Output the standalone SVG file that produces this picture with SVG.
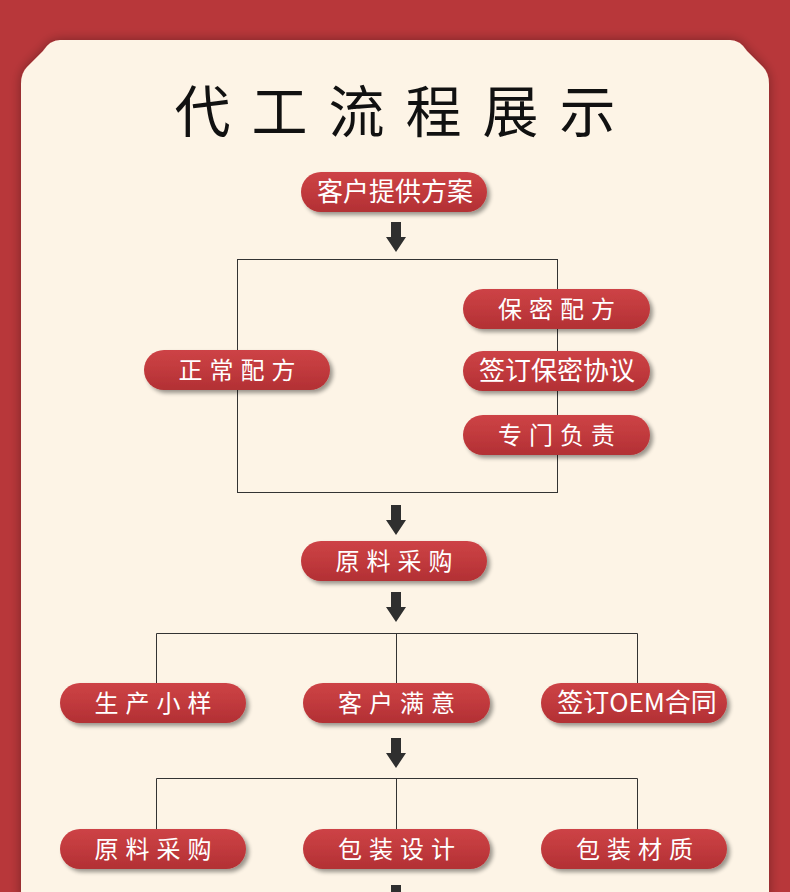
<svg xmlns="http://www.w3.org/2000/svg" width="790" height="892" viewBox="0 0 790 892">
<defs>
<linearGradient id="pg" x1="0" y1="0" x2="0" y2="1">
<stop offset="0" stop-color="#cd4346"/>
<stop offset="0.5" stop-color="#c13a3d"/>
<stop offset="1" stop-color="#b23034"/>
</linearGradient>
<filter id="ps" x="-10%" y="-30%" width="125%" height="170%">
<feGaussianBlur in="SourceAlpha" stdDeviation="2"/>
<feOffset dx="3" dy="3" result="b"/>
<feComponentTransfer><feFuncA type="linear" slope="0.4"/></feComponentTransfer>
<feMerge><feMergeNode/><feMergeNode in="SourceGraphic"/></feMerge>
</filter>
<filter id="cs" x="-5%" y="-5%" width="110%" height="110%">
<feGaussianBlur in="SourceAlpha" stdDeviation="6"/>
<feOffset dx="0" dy="0"/>
<feComponentTransfer><feFuncA type="linear" slope="0.35"/></feComponentTransfer>
<feMerge><feMergeNode/><feMergeNode in="SourceGraphic"/></feMerge>
</filter>
<path id="arrow" d="M -5 0 L 5 0 L 5 15 L 10 15 L 0 30 L -10 15 L -5 15 Z" fill="#2f2f2f"/>
</defs>
<style>
.pill{fill:url(#pg);filter:url(#ps)}
.lbl{font-family:"Noto Sans CJK SC","Noto Sans",sans-serif;font-size:24px;fill:#ffffff;text-anchor:middle}
.big{font-size:26px}
.sp{letter-spacing:7px}
.ln{fill:none;stroke:#333333;stroke-width:1}
.title{font-family:"Noto Sans CJK SC",serif;font-size:56px;font-weight:400;fill:#111111;text-anchor:middle;letter-spacing:21px}
</style>
<rect x="0" y="0" width="790" height="892" fill="#b8373a"/>
<path d="M 21 84 Q 21 73 27 67 L 43 51 Q 50 40 60 40 L 730 40 Q 740 40 747 51 L 763 67 Q 769 73 769 84 L 769 900 L 21 900 Z" fill="#fdf4e6" filter="url(#cs)"/>
<text class="title" x="405.5" y="132">代工流程展示</text>

<g id="connectors">
<use href="#arrow" x="396" y="222"/>
<rect class="ln" x="237.5" y="259.5" width="320" height="233"/>
<use href="#arrow" x="396" y="505"/>
<use href="#arrow" x="396" y="592"/>
<path class="ln" d="M 156.5 683 L 156.5 633.5 L 637.5 633.5 L 637.5 683 M 396.5 633.5 L 396.5 683"/>
<use href="#arrow" x="396" y="738"/>
<path class="ln" d="M 156.5 829 L 156.5 778.5 L 637.5 778.5 L 637.5 829 M 396.5 778.5 L 396.5 829"/>
<use href="#arrow" x="396" y="885"/>
</g>

<g id="n1"><rect class="pill" x="301" y="172" width="186" height="40" rx="20"/><text class="lbl big" x="395" y="201">客户提供方案</text></g>
<g id="n2"><rect class="pill" x="463" y="289" width="187" height="40" rx="20"/><text class="lbl sp" x="560" y="318">保密配方</text></g>
<g id="n3"><rect class="pill" x="463" y="351" width="187" height="40" rx="20"/><text class="lbl big" x="557" y="380">签订保密协议</text></g>
<g id="n4"><rect class="pill" x="463" y="415" width="187" height="40" rx="20"/><text class="lbl sp" x="560" y="444">专门负责</text></g>
<g id="n5"><rect class="pill" x="144" y="350" width="186" height="40" rx="20"/><text class="lbl sp" x="240.5" y="379">正常配方</text></g>
<g id="n6"><rect class="pill" x="301" y="541" width="186" height="40" rx="20"/><text class="lbl sp" x="397.5" y="570">原料采购</text></g>
<g id="n7"><rect class="pill" x="60" y="683" width="186" height="40" rx="20"/><text class="lbl sp" x="156.5" y="712">生产小样</text></g>
<g id="n8"><rect class="pill" x="303" y="683" width="187" height="40" rx="20"/><text class="lbl sp" x="400" y="712">客户满意</text></g>
<g id="n9"><rect class="pill" x="541" y="683" width="186" height="40" rx="20"/><text class="lbl big" x="637" y="712">签订OEM合同</text></g>
<g id="n10"><rect class="pill" x="60" y="829" width="186" height="40" rx="20"/><text class="lbl sp" x="156.5" y="858">原料采购</text></g>
<g id="n11"><rect class="pill" x="303" y="829" width="187" height="40" rx="20"/><text class="lbl sp" x="400" y="858">包装设计</text></g>
<g id="n12"><rect class="pill" x="541" y="829" width="186" height="40" rx="20"/><text class="lbl sp" x="638" y="858">包装材质</text></g>
</svg>
